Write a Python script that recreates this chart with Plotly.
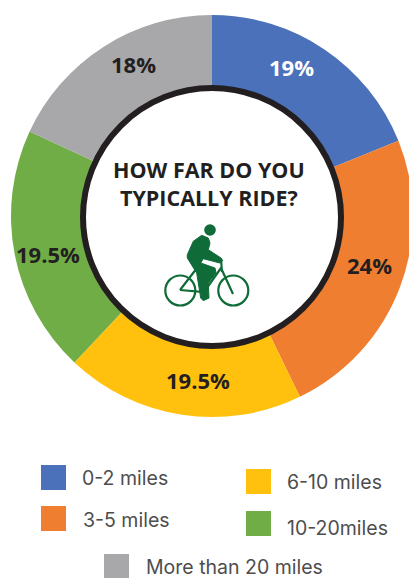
import plotly.graph_objects as go

W, H = 424, 578

categories = ["0-2 miles", "3-5 miles", "6-10 miles", "10-20miles", "More than 20 miles"]
# slice sizes as drawn, they differ a little from the printed labels
values = [18.9, 23.9, 19.2, 19.9, 18.1]
value_labels = ["19%", "24%", "19.5%", "19.5%", "18%"]
colors = ["#4A71B9", "#F07E30", "#FFC10E", "#70AD47", "#A8A8AA"]

DARK = "#231F20"
BIKE = "#0F6B38"
LABEL_FONT = "Open Sans"
LEGEND_FONT = "Inter"

fig = go.Figure()
fig.add_trace(go.Pie(values=values, labels=categories, sort=False, direction="clockwise",
                     rotation=0, hole=0.6, textinfo="none", hoverinfo="label+percent",
                     marker=dict(colors=colors, line=dict(width=0)),
                     showlegend=False, domain=dict(x=[0, 1], y=[1 - 417 / H, 1 - 15 / H])))

shapes = []


def circle(cx, cy, r, **kw):
    shapes.append(dict(type="circle", xref="x", yref="y", x0=cx - r, x1=cx + r, y0=cy - r, y1=cy + r, **kw))


def path(d, **kw):
    shapes.append(dict(type="path", xref="x", yref="y", path=d, **kw))


# centre disc with the black ring
circle(212, 217, 129, fillcolor="white", line=dict(color=DARK, width=6))

# bike icon, pixel coordinates
wheel = dict(fillcolor="rgba(0,0,0,0)", line=dict(color=BIKE, width=2.2))
circle(180.3, 290.5, 15, **wheel)
circle(233.3, 290.5, 15, **wheel)
circle(210, 230, 5.8, fillcolor=BIKE, line=dict(width=0))
path("M 180 290 L 197 268 M 180 290 L 204 292 L 221 268 L 233 294 M 221 259 L 222 272 M 197 268 L 205 292",
     fillcolor="rgba(0,0,0,0)", line=dict(color=BIKE, width=2.2))
path("M 201.7 235.3 L 208.3 238 L 210 243 L 208.3 249.7 L 221 258 L 222.7 260.7 L 220 263 L 203.3 258.7 "
     "L 200.7 263 L 215 268 L 216 273 L 208.3 283 L 209 298 L 203.3 300.7 L 200.7 298 L 196.7 273 "
     "L 187.3 258 L 187.3 254.7 L 193.3 241.3 Z",
     fillcolor=BIKE, line=dict(color=BIKE, width=1))

# legend squares
square_pos = [(41, 465), (41, 506), (246, 469), (246, 511), (104, 554)]
for (x0, y0), c in zip(square_pos, colors):
    shapes.append(dict(type="rect", xref="x", yref="y", x0=x0, x1=x0 + 25, y0=y0, y1=y0 + 25,
                       fillcolor=c, line=dict(width=0)))

annotations = []


def text(x, y, s, size, font, color=DARK, anchor="center"):
    annotations.append(dict(x=x, y=y, xref="x", yref="y", text=s, showarrow=False, xanchor=anchor,
                            yanchor="middle", font=dict(family=font, size=size, color=color)))


label_pos = [(291, 67), (369, 265), (198, 380), (48, 254), (133, 64)]
label_colors = ["white", DARK, DARK, DARK, DARK]
for (x, y), s, c in zip(label_pos, value_labels, label_colors):
    text(x, y, "<b>" + s + "</b>", 22, LABEL_FONT, c)

text(209, 183, "<b>HOW FAR DO YOU<br>TYPICALLY RIDE?</b>", 21.5, LABEL_FONT)

legend_pos = [(80, 478), (81, 520), (285, 482), (285, 528), (144, 567)]
for (x, y), s in zip(legend_pos, categories):
    text(x, y, s, 19.5, LEGEND_FONT, "#4D4D4D", "left")

fig.update_layout(width=W, height=H, autosize=False, margin=dict(l=0, r=0, t=0, b=0),
                  paper_bgcolor="white", plot_bgcolor="rgba(0,0,0,0)",
                  xaxis=dict(range=[0, W], visible=False, fixedrange=True),
                  yaxis=dict(range=[H, 0], visible=False, fixedrange=True),
                  shapes=shapes, annotations=annotations)

fig.write_html("out.html", config=dict(displayModeBar=False),
               post_script="document.documentElement.style.overflow='hidden';document.body.style.overflow='hidden';document.body.style.margin='0';")
